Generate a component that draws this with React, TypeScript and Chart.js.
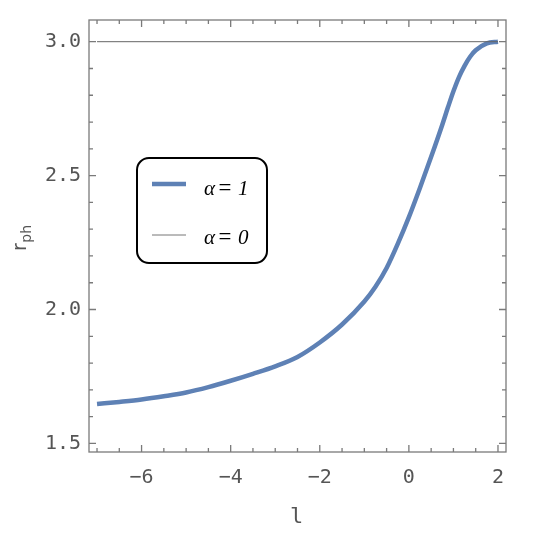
import React, { useEffect, useRef } from "react";
import { Chart, registerables } from "chart.js";

Chart.register(...registerables);

const lValues = [-7, -6.5, -6, -5.5, -5, -4.5, -4, -3.5, -3, -2.5, -2, -1.5, -1, -0.75, -0.5, -0.25, 0, 0.25, 0.5, 0.75, 0.875, 1, 1.125, 1.25, 1.375, 1.5, 1.75, 2];
const rphAlpha1 = [1.647, 1.655, 1.664, 1.676, 1.69, 1.71, 1.734, 1.76, 1.788, 1.823, 1.877, 1.944, 2.03, 2.085, 2.155, 2.245, 2.345, 2.455, 2.57, 2.69, 2.754, 2.815, 2.868, 2.91, 2.944, 2.968, 2.994, 3.0];
const lAlpha0 = [-7, 2];
const rphAlpha0 = [3.0, 3.0];
const xTicks = [-6, -4, -2, 0, 2];
const yTicks = [1.5, 2.0, 2.5, 3.0];
const legendLabels = ["1", "0"];

const TICK_FONT = "DejaVu Sans Mono";
const GRAY = "#555555";

const framePlugin = {
  id: "frameTicks",
  afterDatasetsDraw(chart: any) {
    const { ctx, chartArea: a, scales } = chart;
    const xs = scales.x;
    const ys = scales.y;
    ctx.save();
    ctx.strokeStyle = "#7a7a7a";
    ctx.lineWidth = 1.3;
    ctx.strokeRect(a.left, a.top, a.right - a.left, a.bottom - a.top);
    ctx.beginPath();
    for (let v = -7; v <= 2.0001; v += 0.5) {
      const major = Math.abs(v - Math.round(v / 2) * 2) < 1e-6;
      const len = major ? 7 : 4;
      const px = xs.getPixelForValue(v);
      ctx.moveTo(px, a.bottom);
      ctx.lineTo(px, a.bottom - len);
      ctx.moveTo(px, a.top);
      ctx.lineTo(px, a.top + len);
    }
    for (let i = 15; i <= 30; i++) {
      const v = i / 10;
      const major = i % 5 === 0;
      const len = major ? 7 : 4;
      const py = ys.getPixelForValue(v);
      ctx.moveTo(a.left, py);
      ctx.lineTo(a.left + len, py);
      ctx.moveTo(a.right, py);
      ctx.lineTo(a.right - len, py);
    }
    ctx.stroke();

    // axis titles
    ctx.fillStyle = GRAY;
    ctx.font = `22px ${TICK_FONT}`;
    ctx.textAlign = "center";
    ctx.textBaseline = "alphabetic";
    ctx.fillText("l", (a.left + a.right) / 2 - 1, 523);

    ctx.save();
    ctx.translate(26, 251);
    ctx.rotate(-Math.PI / 2);
    ctx.textAlign = "left";
    ctx.font = `19px "DejaVu Sans"`;
    ctx.fillText("r", 0, 0);
    const rw = ctx.measureText("r").width;
    ctx.font = `14px "DejaVu Sans"`;
    ctx.fillText("ph", rw + 0.5, 5);
    ctx.restore();

    // legend
    ctx.strokeStyle = "#000";
    ctx.lineWidth = 2;
    ctx.beginPath();
    ctx.roundRect(137, 158, 130, 105, 12);
    ctx.stroke();

    const rows = [
      { y: 184, color: "#5e81b5", width: 4.5, label: legendLabels[0], base: 195 },
      { y: 235, color: "#777777", width: 1, label: legendLabels[1], base: 244 },
    ];
    for (const r of rows) {
      ctx.strokeStyle = r.color;
      ctx.lineWidth = r.width;
      ctx.beginPath();
      ctx.moveTo(152, r.y);
      ctx.lineTo(186, r.y);
      ctx.stroke();
      ctx.fillStyle = "#000";
      ctx.font = `italic 21px "Liberation Serif"`;
      ctx.textAlign = "left";
      ctx.fillText("α", 204, r.base);
      ctx.font = `italic 23px "Liberation Serif"`;
      ctx.fillText("=", 217, r.base);
      ctx.font = `italic 21px "Liberation Serif"`;
      ctx.fillText(r.label, 238, r.base);
    }
    ctx.restore();
  },
};

export default function App() {
  const ref = useRef<HTMLCanvasElement | null>(null);
  useEffect(() => {
    if (!ref.current) return;
    const chart = new Chart(ref.current, {
      type: "line",
      data: {
        datasets: [
          {
            label: "α=0",
            data: lAlpha0.map((x, i) => ({ x, y: rphAlpha0[i] })),
            borderColor: "#666666",
            borderWidth: 1,
            pointRadius: 0,
            fill: false,
          },
          {
            label: "α=1",
            data: lValues.map((x, i) => ({ x, y: rphAlpha1[i] })),
            borderColor: "#5e81b5",
            borderWidth: 4.5,
            pointRadius: 0,
            fill: false,
            cubicInterpolationMode: "monotone",
          },
        ],
      },
      options: {
        responsive: false,
        animation: false,
        layout: { padding: { left: 0, right: 44, top: 14, bottom: 0 } },
        plugins: { legend: { display: false }, tooltip: { enabled: false } },
        scales: {
          x: {
            type: "linear",
            min: -7.18,
            max: 2.18,
            grid: { display: false, drawTicks: false },
            border: { display: false },
            afterBuildTicks: (s: any) => {
              s.ticks = xTicks.map((v) => ({ value: v }));
            },
            afterFit: (s: any) => {
              s.height = 87;
            },
            ticks: {
              autoSkip: false,
              maxRotation: 0,
              padding: 14,
              color: GRAY,
              font: { family: TICK_FONT, size: 20 },
              callback: (v: any) => (Number(v) < 0 ? "\u2212" + Math.abs(Number(v)) : String(v)),
            },
          },
          y: {
            type: "linear",
            min: 1.468,
            max: 3.081,
            grid: { display: false, drawTicks: false },
            border: { display: false },
            afterBuildTicks: (s: any) => {
              s.ticks = yTicks.map((v) => ({ value: v }));
            },
            afterFit: (s: any) => {
              s.width = 89;
            },
            ticks: {
              autoSkip: false,
              padding: 8,
              color: GRAY,
              font: { family: TICK_FONT, size: 20 },
              callback: (v: any) => Number(v).toFixed(1),
            },
          },
        },
      },
      plugins: [framePlugin],
    });
    return () => chart.destroy();
  }, []);
  return (
    <div style={{ position: "absolute", left: 0, top: 0, width: 550, height: 539, background: "#fff" }}>
      <canvas ref={ref} width={550} height={539} />
    </div>
  );
}
